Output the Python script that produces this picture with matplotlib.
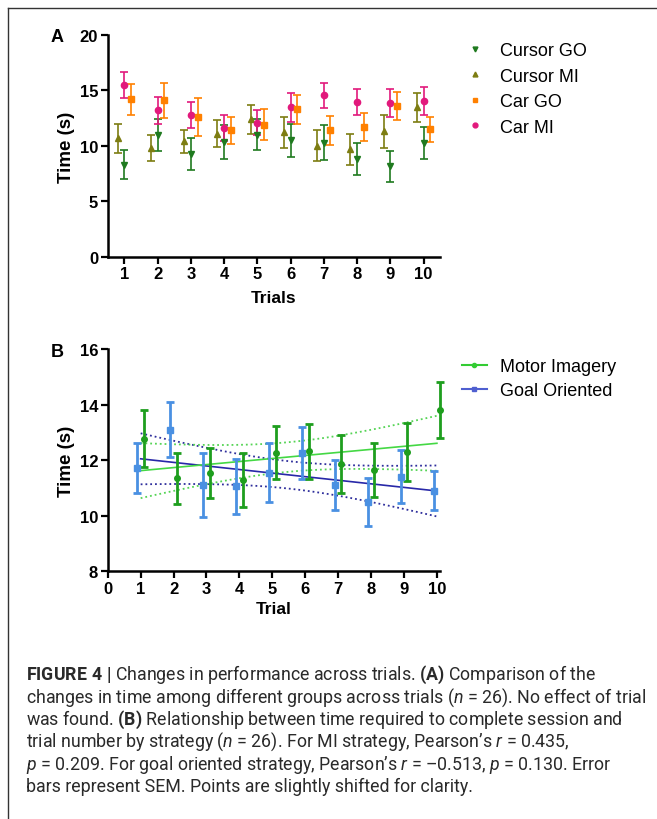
import numpy as np
import matplotlib
matplotlib.use('Agg')
import matplotlib.pyplot as plt
from matplotlib.lines import Line2D

plt.rcParams['font.family'] = 'Liberation Sans'
plt.rcParams['mathtext.fontset'] = 'custom'
plt.rcParams['mathtext.rm'] = 'Roboto'
plt.rcParams['mathtext.it'] = 'Roboto:italic'
plt.rcParams['mathtext.bf'] = 'Roboto:bold'

# ---------------- panel A data: mean time (s) and SEM per trial ----------------
trials = np.arange(1, 11)

cursor_go = [8.3, 11.0, 9.3, 10.35, 11.0, 10.5, 10.3, 8.8, 8.15, 10.25]
cursor_go_sem = [1.3, 1.45, 1.45, 1.5, 1.4, 1.5, 1.55, 1.45, 1.4, 1.45]
cursor_mi = [10.7, 9.8, 10.4, 11.1, 12.4, 11.25, 10.0, 9.7, 11.3, 13.5]
cursor_mi_sem = [1.3, 1.15, 1.05, 1.2, 1.3, 1.4, 1.4, 1.4, 1.5, 1.3]
car_go = [14.2, 14.1, 12.6, 11.4, 11.9, 13.3, 11.4, 11.7, 13.6, 11.5]
car_go_sem = [1.4, 1.6, 1.7, 1.2, 1.4, 1.3, 1.3, 1.25, 1.25, 1.15]
car_mi = [15.5, 13.2, 12.8, 11.6, 12.1, 13.5, 14.55, 13.95, 13.9, 14.05]
car_mi_sem = [1.15, 1.25, 1.2, 1.2, 1.15, 1.3, 1.15, 1.2, 1.25, 1.25]

# ---------------- panel B data: by strategy ----------------
mi_time = [12.77, 11.35, 11.55, 11.28, 12.27, 12.31, 11.85, 11.63, 12.3, 13.8]
mi_sem = [1.03, 0.92, 0.9, 0.96, 0.97, 1.0, 1.05, 0.97, 1.04, 1.0]
go_time = [11.7, 13.1, 11.1, 11.05, 11.55, 12.25, 11.1, 10.5, 11.4, 10.9]
go_sem = [0.9, 1.0, 1.15, 1.0, 1.05, 0.95, 0.9, 0.87, 0.95, 0.7]

caption_lines = [
    r"$\mathbf{FIGURE\ 4\ |}$ Changes in performance across trials. $\mathbf{(A)}$ Comparison of the",
    r"changes in time among different groups across trials ($n$ = 26). No effect of trial",
    r"was found. $\mathbf{(B)}$ Relationship between time required to complete session and",
    r"trial number by strategy ($n$ = 26). For MI strategy, Pearson’s $r$ = 0.435,",
    r"$p$ = 0.209. For goal oriented strategy, Pearson’s $r$ = –0.513, $p$ = 0.130. Error",
    r"bars represent SEM. Points are slightly shifted for clarity.",
]


def style_axes(ax):
    for s in ['top', 'right']:
        ax.spines[s].set_visible(False)
    for s in ['left', 'bottom']:
        ax.spines[s].set_linewidth(1.8)
    ax.tick_params(width=1.6, length=5, labelsize=12, pad=2)
    for lab in ax.get_xticklabels() + ax.get_yticklabels():
        lab.set_fontweight('bold')


def fit_with_band(x, y, xs):
    x = np.asarray(x, float)
    y = np.asarray(y, float)
    slope, icpt = np.polyfit(x, y, 1)
    resid = y - (slope * x + icpt)
    n = len(x)
    s = np.sqrt(np.sum(resid ** 2) / (n - 2))
    sxx = np.sum((x - x.mean()) ** 2)
    se = s * np.sqrt(1 / n + (xs - x.mean()) ** 2 / sxx)
    fit = slope * xs + icpt
    t = 2.306  # t(0.975, 8)
    return fit, fit - t * se, fit + t * se


fig = plt.figure(figsize=(6.57, 8.2), dpi=100)

# ============================ Panel A ============================ #
axA = fig.add_axes([0.164, 0.6857, 0.506, 0.2703])
series_a = [
    (cursor_mi, cursor_mi_sem, -0.2, '^', '#7d7d12', 'Cursor MI'),
    (cursor_go, cursor_go_sem, 0.0, 'v', '#1f7a1f', 'Cursor GO'),
    (car_mi, car_mi_sem, 0.0, 'o', '#e2197c', 'Car MI'),
    (car_go, car_go_sem, 0.2, 's', '#ff8000', 'Car GO'),
]
for vals, sem, off, mk, col, name in series_a:
    axA.errorbar(trials + off, vals, yerr=sem, fmt=mk, color=col, ms=4.5,
                 elinewidth=1.2, capsize=3, capthick=1.2, label=name)
axA.set_xlim(0.5, 10.5)
axA.set_ylim(0, 20)
axA.set_xticks(trials)
axA.set_yticks([0, 5, 10, 15, 20])
style_axes(axA)
axA.set_ylabel('Time (s)', fontsize=13.5, fontweight='bold', labelpad=3)
axA.set_xlabel('Trials', fontsize=12.5, fontweight='bold', labelpad=6)

order = ['Cursor GO', 'Cursor MI', 'Car GO', 'Car MI']
handles_a = []
for name in order:
    for vals, sem, off, mk, col, nm in series_a:
        if nm == name:
            handles_a.append(Line2D([], [], marker=mk, color=col, linestyle='none', ms=3.5))
axA.legend(handles_a, order, loc='upper left', bbox_to_anchor=(0.681, 0.967),
           bbox_transform=fig.transFigure, frameon=False, fontsize=13,
           handlelength=1.2, handletextpad=0.8, labelspacing=0.47)
fig.text(0.087, 0.954, 'A', fontsize=13, fontweight='bold', ha='center', va='center')

# ============================ Panel B ============================ #
axB = fig.add_axes([0.164, 0.3024, 0.506, 0.2707])
xs = np.linspace(1, 10, 100)
go_fit, go_lo, go_hi = fit_with_band(trials, go_time, xs)
mi_fit, mi_lo, mi_hi = fit_with_band(trials, mi_time, xs)

axB.plot(xs, go_lo, ':', color='#2e2e9c', lw=1.3)
axB.plot(xs, go_hi, ':', color='#2e2e9c', lw=1.3)
axB.plot(xs, mi_lo, ':', color='#55d455', lw=1.3)
axB.plot(xs, mi_hi, ':', color='#55d455', lw=1.3)
axB.plot(xs, go_fit, '-', color='#2828a8', lw=1.2)
axB.plot(xs, mi_fit, '-', color='#44d844', lw=1.2)

eb = axB.errorbar(trials - 0.1, go_time, yerr=go_sem, fmt='s', color='#4a90e2', ms=4,
                  elinewidth=2, capsize=3, capthick=2)
for art in eb.get_children():
    art.set_clip_on(False)
eb = axB.errorbar(trials + 0.1, mi_time, yerr=mi_sem, fmt='o', color='#1e9e1e', ms=4,
                  elinewidth=2, capsize=3, capthick=2)
for art in eb.get_children():
    art.set_clip_on(False)
axB.set_xlim(0, 10.1)
axB.set_ylim(8, 16)
axB.set_xticks(np.arange(0, 11))
axB.set_yticks([8, 10, 12, 14, 16])
style_axes(axB)
axB.set_ylabel('Time (s)', fontsize=13.5, fontweight='bold', labelpad=3)
axB.set_xlabel('Trial', fontsize=12.5, fontweight='bold', labelpad=4)

handles_b = [Line2D([], [], color='#33cc33', marker='o', ms=3, lw=1.5),
             Line2D([], [], color='#4f5fd0', marker='s', ms=3, lw=1.5)]
axB.legend(handles_b, ['Motor Imagery', 'Goal Oriented'], loc='upper left',
           bbox_to_anchor=(0.678, 0.582), bbox_transform=fig.transFigure,
           frameon=False, fontsize=13, handlelength=1.4, handletextpad=0.7,
           labelspacing=0.38)
fig.text(0.087, 0.570, 'B', fontsize=13, fontweight='bold', ha='center', va='center')

# ============================ caption + frame ============================ #
y0 = 675
for i, line in enumerate(caption_lines):
    fig.text(26 / 657, 1 - (y0 + i * 22.4) / 820, line, fontsize=12.8,
             family='Roboto', color='#2a2a2a', ha='left', va='center')

fig.add_artist(Line2D([8 / 657, 1], [1 - 9 / 820, 1 - 9 / 820],
                      transform=fig.transFigure, color='#333333', lw=1))
fig.add_artist(Line2D([8 / 657, 8 / 657], [0, 1 - 9 / 820],
                      transform=fig.transFigure, color='#333333', lw=1))

fig.savefig('out.png', dpi=100)
